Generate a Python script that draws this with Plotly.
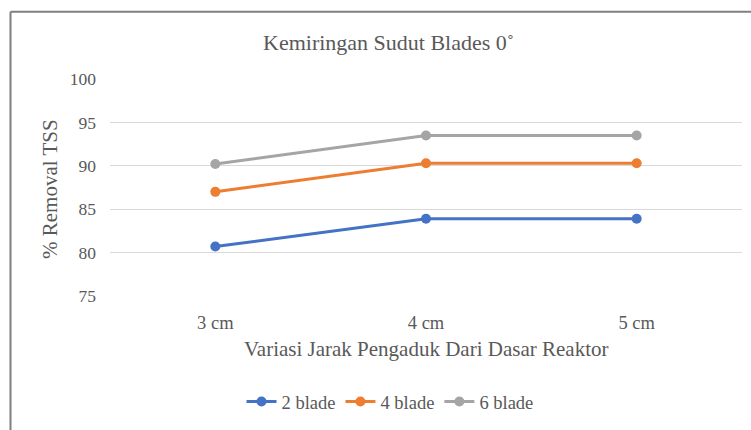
import plotly.graph_objects as go

# Jarak pengaduk dari dasar reaktor
categories = ["3 cm", "4 cm", "5 cm"]

# % removal TSS per jumlah blade
blade_2 = [80.7, 83.9, 83.9]
blade_4 = [87.0, 90.3, 90.3]
blade_6 = [90.2, 93.5, 93.5]

y_ticks = [75, 80, 85, 90, 95, 100]

series = [
    ("2 blade", blade_2, "#4472C4"),
    ("4 blade", blade_4, "#ED7D31"),
    ("6 blade", blade_6, "#A5A5A5"),
]

FONT = "Liberation Serif"
TEXT = "#595959"

fig = go.Figure()
for name, vals, color in series:
    fig.add_trace(go.Scatter(
        x=categories, y=vals, name=name, mode="lines+markers",
        line=dict(color=color, width=3),
        marker=dict(color=color, size=10),
    ))

W, H = 751, 430
ml, mr, mt, mb = 110, 9, 79, 130
pw, ph = W - ml - mr, H - mt - mb


def px_x(p):
    return (p - ml) / pw


def px_y(p):
    return (H - mb - p) / ph


def label(text, x, y, size, angle=0):
    return dict(
        text=text, xref="paper", yref="paper", x=px_x(x), y=px_y(y),
        xanchor="center", yanchor="middle", showarrow=False, textangle=angle,
        font=dict(family=FONT, size=size, color=TEXT),
    )


fig.update_layout(
    width=W, height=H,
    margin=dict(l=ml, r=mr, t=mt, b=mb),
    paper_bgcolor="white", plot_bgcolor="white",
    font=dict(family=FONT, color=TEXT, size=13),
    showlegend=True,
    legend=dict(
        orientation="h", x=px_x(390), y=px_y(408),
        xanchor="center", yanchor="middle",
        font=dict(family=FONT, size=18.5, color=TEXT),
        itemwidth=30, tracegroupgap=0,
    ),
    xaxis=dict(
        type="category", range=[-0.5, 2.5], showgrid=False,
        showline=False, zeroline=False, ticks="", ticklabelstandoff=13,
        tickfont=dict(family=FONT, size=18.5, color=TEXT),
    ),
    yaxis=dict(
        range=[75, 100], tickvals=y_ticks, showgrid=True,
        gridcolor="#D9D9D9", gridwidth=1, zeroline=False, showline=False,
        ticks="", ticklabelstandoff=13,
        tickfont=dict(family=FONT, size=17.5, color=TEXT),
    ),
    annotations=[
        label("Kemiringan Sudut Blades 0˚", 388, 42, 22),
        label("Variasi Jarak Pengaduk Dari Dasar Reaktor", 426, 354, 21),
        label("% Removal TSS", 50, 191, 21, angle=-90),
    ],
    shapes=[
        dict(type="line", xref="paper", yref="paper",
             x0=px_x(10.5), x1=px_x(760), y0=px_y(10.5), y1=px_y(10.5),
             line=dict(color="#7F7F7F", width=2)),
        dict(type="line", xref="paper", yref="paper",
             x0=px_x(10.5), x1=px_x(10.5), y0=px_y(10.5), y1=px_y(440),
             line=dict(color="#7F7F7F", width=2)),
    ],
)

fig.write_html("out.html")
